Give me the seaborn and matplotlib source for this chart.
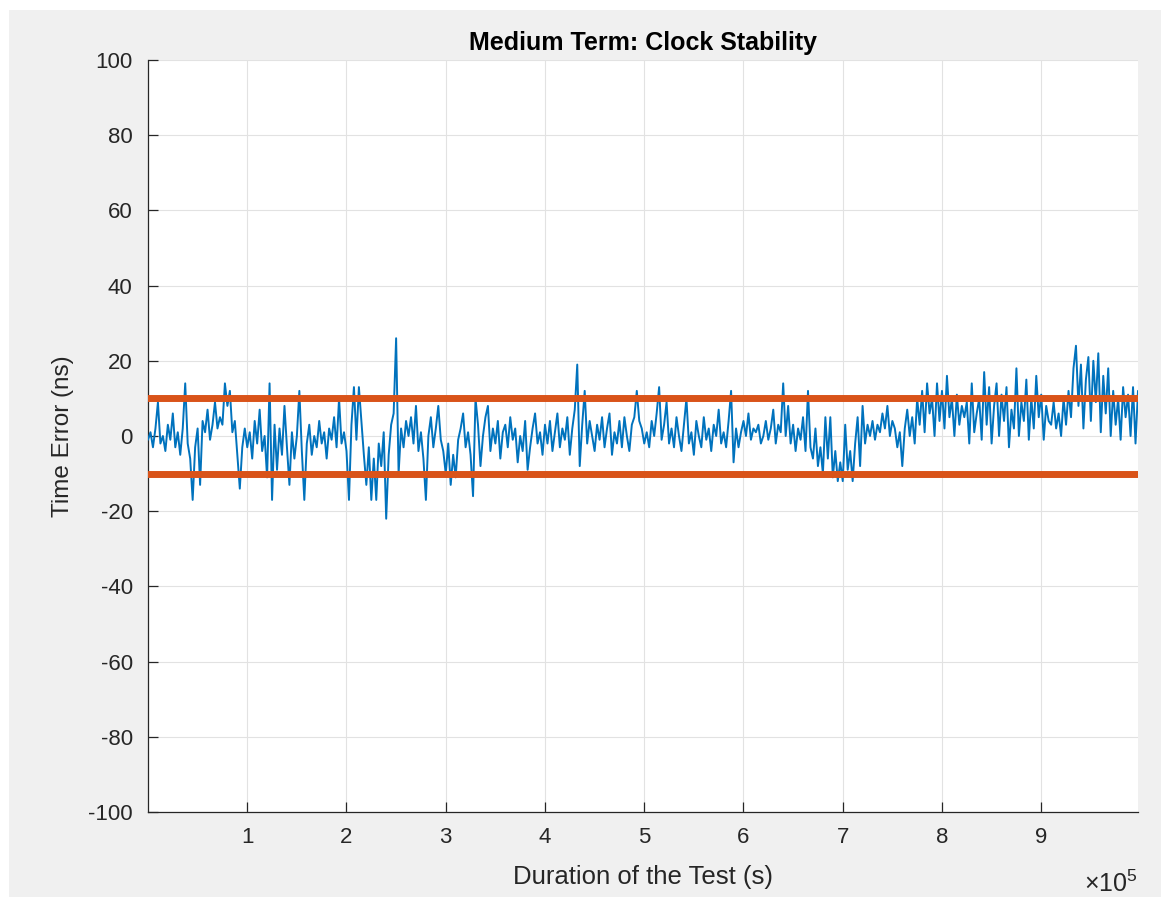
import matplotlib
matplotlib.use("Agg")
import matplotlib.pyplot as plt
import matplotlib.patches as mpatches
import numpy as np
import pandas as pd
import seaborn as sns

# sample spacing of the recorded time error (s)
step = 2500

# time error (ns), one row per 1e5 s
seg0 = [-1, 1, -3, 2, 9, -2, 0, -4, 3, -1, 6, -3, 1, -5, 2, 14, -2, -6, -17, -3,
        2, -13, 4, 1, 7, -1, 3, 9, 2, 5, 3, 14, 8, 12, 1, 4, -5, -14, -3, 2]
seg1 = [-3, 1, -6, 4, -2, 7, -4, 0, -11, 14, -17, 3, -9, 2, -5, 8, -3, -13, 1, -6,
        0, 12, -4, -17, -2, 3, -5, 0, -3, 4, -2, 1, -6, 2, -1, 5, -3, 10, -2, 1]
seg2 = [-4, -17, 3, 13, -1, 13, 4, -5, -13, -3, -17, -6, -17, -2, -8, 1, -22, -5, 3, 6,
        26, -10, 2, -3, 4, 0, 5, -2, 8, -4, 1, -6, -17, 0, 5, -3, 2, 8, -1, -4]
seg3 = [-10, -2, -13, -5, -11, -1, 2, 6, -3, 1, -5, -16, 10, 3, -8, 0, 5, 8, -4, 2,
        -2, 4, -6, 1, 3, -3, 5, -1, 2, -7, 0, -4, 4, -9, -3, 2, 6, -2, 1, -5]
seg4 = [3, -2, 4, -4, 1, 6, -3, 2, -1, 5, -5, 2, 7, 19, -8, 3, 12, -2, 4, 0,
        -4, 3, -1, 5, -3, 2, 6, -5, 1, -2, 4, -3, 5, 0, -4, 3, 5, 12, 4, 2]
seg5 = [-2, 1, -3, 4, 0, 6, 13, -1, 3, 9, -2, 2, -3, 5, 0, -4, 3, 10, -2, 1,
        -5, 4, 0, -3, 5, -1, 2, -4, 3, 0, 7, -2, 1, -3, 4, 12, -7, 2, -3, 1]
seg6 = [4, 0, 6, -1, 2, 1, 3, -2, 0, 4, -1, 2, 7, -2, 3, 1, 14, 0, 8, -2,
        3, -4, 2, -1, 5, -4, 12, -3, -6, 2, -8, -3, -10, 5, -6, 5, -11, -4, -12, -7]
seg7 = [-12, 3, -9, -4, -12, -2, 5, -8, 8, -2, 3, 0, 4, -1, 3, 1, 6, 2, 8, 0,
        4, 2, -3, 1, -8, 2, 7, 0, 5, -2, 10, 3, 12, 1, 14, 6, 10, 0, 14, 4]
seg8 = [12, 2, 16, 5, 10, 0, 11, 3, 8, 5, 9, -2, 14, 1, 6, 10, -1, 17, 3, 13,
        -2, 8, 14, 0, 11, 4, 13, -3, 7, 2, 18, 0, 9, 4, 15, -1, 10, 2, 16, 5]
seg9 = [11, -1, 8, 4, 3, 9, 2, 6, 0, 10, 3, 12, 5, 18, 24, 8, 19, 2, 15, 21,
        4, 20, 9, 22, 1, 16, 6, 18, 0, 12, 3, 10, -1, 13, 5, 11, 0, 13, -2, 12]

time_error = seg0 + seg1 + seg2 + seg3 + seg4 + seg5 + seg6 + seg7 + seg8 + seg9
duration = np.arange(len(time_error)) * step

limit_levels = [10, -10]
x_ticks = [1e5, 2e5, 3e5, 4e5, 5e5, 6e5, 7e5, 8e5, 9e5]
x_tick_labels = ["1", "2", "3", "4", "5", "6", "7", "8", "9"]
y_ticks = [-100, -80, -60, -40, -20, 0, 20, 40, 60, 80, 100]

df = pd.DataFrame({"duration": duration, "error": time_error})
x_end = duration[-1]
df_lim = pd.DataFrame({
    "duration": [0, x_end, 0, x_end],
    "error": [limit_levels[0], limit_levels[0], limit_levels[1], limit_levels[1]],
    "which": ["upper", "upper", "lower", "lower"],
})

sns.set_style("ticks")
plt.rcParams["font.family"] = ["Liberation Sans", "DejaVu Sans"]

txt = "#262626"
fig = plt.figure(figsize=(11.7, 9.07), dpi=100)
fig.patch.set_facecolor("white")
# MATLAB style grey window
fig.patches.append(mpatches.Rectangle((9 / 1170, 10 / 907), 1152 / 1170, 887 / 907,
                                      transform=fig.transFigure, facecolor="#f0f0f0",
                                      edgecolor="none", zorder=-10))

ax = fig.add_axes([148 / 1170, 1 - 812 / 907, 990 / 1170, 752 / 907])
ax.set_facecolor("white")

sns.lineplot(data=df, x="duration", y="error", ax=ax, color="#0072BD",
             linewidth=1.4, zorder=3)
sns.lineplot(data=df_lim, x="duration", y="error", units="which", estimator=None,
             ax=ax, color="#D95319", linewidth=5, zorder=4)

ax.set_xlim(0, x_end)
ax.set_ylim(-100, 100)
ax.set_xticks(x_ticks)
ax.set_xticklabels(x_tick_labels)
ax.set_yticks(y_ticks)
ax.set_yticklabels([str(v) for v in y_ticks])

ax.grid(True, color="#e2e2e2", linewidth=0.8)
ax.set_axisbelow(True)
for s in ["top", "right"]:
    ax.spines[s].set_visible(False)
for s in ["left", "bottom"]:
    ax.spines[s].set_color(txt)
    ax.spines[s].set_linewidth(0.9)
ax.tick_params(direction="in", length=7, width=0.9, colors=txt, labelsize=16, pad=11)

ax.set_xlabel("Duration of the Test (s)", fontsize=18.5, color=txt, labelpad=12)
ax.set_ylabel("Time Error (ns)", fontsize=17.5, color=txt, labelpad=10)
ax.set_title("Medium Term: Clock Stability", fontsize=18, fontweight="bold",
             color="black", pad=7)
ax.text(1.0, -0.078, r"$\mathregular{\times 10^{5}}$", transform=ax.transAxes,
        ha="right", va="top", fontsize=18, color=txt)

fig.savefig("out.png", dpi=100, facecolor=fig.get_facecolor())
